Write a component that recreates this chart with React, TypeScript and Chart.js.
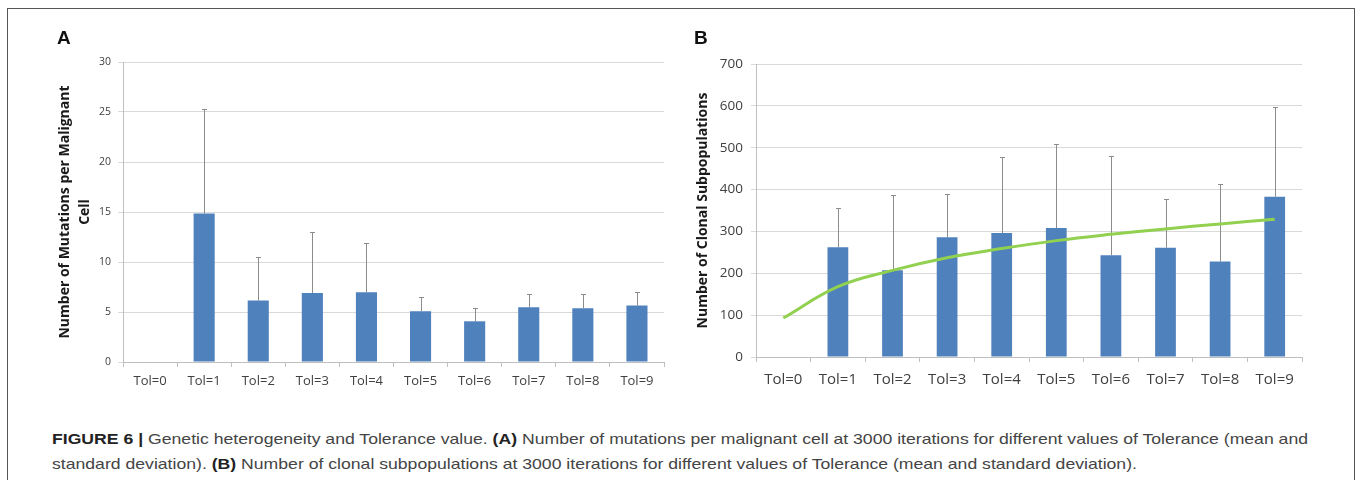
import React, { useEffect, useRef } from 'react';
import { Chart, registerables } from 'chart.js';

Chart.register(...registerables);

const categories = ['Tol=0', 'Tol=1', 'Tol=2', 'Tol=3', 'Tol=4', 'Tol=5', 'Tol=6', 'Tol=7', 'Tol=8', 'Tol=9'];

// Panel A: mutations per malignant cell (mean, mean + SD)
const mutationsMean = [null, 14.85, 6.14, 6.9, 6.97, 5.07, 4.07, 5.47, 5.37, 5.64];
const mutationsUpper = [null, 25.3, 10.55, 13.0, 11.9, 6.47, 5.44, 6.81, 6.77, 7.04];

// Panel B: clonal subpopulations (mean, mean + SD) and trend line
const clonalMean = [null, 262, 207, 286, 296, 308, 243, 261, 228, 383];
const clonalUpper = [null, 357, 387, 389, 477, 509, 481, 378, 414, 598];
const clonalTrend = [93, 168, 207, 237, 259, 278, 293, 306, 318, 329];

const BAR = '#4f81bd';
const GREEN = '#92d050';
const GRID = '#d9d9d9';
const AXIS = '#bfbfbf';
const TICK_TEXT = '#404040';
const FONT = "'Open Sans', 'DejaVu Sans', sans-serif";

const errorBarPlugin = {
  id: 'errorBars',
  afterDatasetDraw(chart: any, args: any, opts: any) {
    const ds = chart.data.datasets[args.index];
    if (!ds || ds.type === 'line' || !opts || !opts.upper) return;
    const yScale = chart.scales.y;
    const ctx = chart.ctx;
    const meta = args.meta;
    ctx.save();
    ctx.strokeStyle = '#8c8c8c';
    ctx.lineWidth = 1;
    meta.data.forEach((el: any, i: number) => {
      const up = opts.upper[i];
      const v = ds.data[i];
      if (up == null || v == null) return;
      const x = Math.round(el.x) + 0.5;
      const y0 = yScale.getPixelForValue(v);
      const y1 = Math.round(yScale.getPixelForValue(up)) + 0.5;
      ctx.beginPath();
      ctx.moveTo(x, y0);
      ctx.lineTo(x, y1);
      ctx.moveTo(x - 2.5, y1);
      ctx.lineTo(x + 2.5, y1);
      ctx.stroke();
    });
    ctx.restore();
  },
};

function makeOptions(cfg: any) {
  return {
    responsive: false,
    animation: false,
    maintainAspectRatio: false,
    layout: { padding: cfg.padding },
    plugins: {
      legend: { display: false },
      tooltip: { enabled: false },
      errorBars: { upper: cfg.upper },
    },
    scales: {
      x: {
        type: 'category',
        offset: true,
        afterFit: (s: any) => { s.height = cfg.xHeight; },
        grid: { offset: true, drawOnChartArea: false, drawTicks: true, tickLength: 5, color: AXIS },
        border: { color: AXIS, width: 1 },
        ticks: { font: { family: FONT, size: cfg.xFont }, color: TICK_TEXT, padding: cfg.xPad, maxRotation: 0, autoSkip: false },
      },
      y: {
        min: 0,
        max: cfg.max,
        afterFit: (s: any) => { s.width = cfg.yWidth; },
        grid: { color: GRID, drawTicks: true, tickLength: 5, lineWidth: 1 },
        border: { color: AXIS, width: 1 },
        ticks: { stepSize: cfg.step, font: { family: FONT, size: cfg.yFont }, color: TICK_TEXT, padding: cfg.yPad },
        title: {
          display: true,
          text: cfg.title,
          font: { family: FONT, size: 14, weight: 'bold', lineHeight: 1.45 },
          color: '#1a1a1a',
          padding: { top: cfg.titlePad, bottom: 0 },
        },
      },
    },
  };
}

function ChartA() {
  const ref = useRef<HTMLCanvasElement>(null);
  useEffect(() => {
    const chart = new Chart(ref.current as HTMLCanvasElement, {
      type: 'bar',
      data: {
        labels: categories,
        datasets: [
          { type: 'bar', data: mutationsMean, backgroundColor: BAR, barPercentage: 0.39, categoryPercentage: 1 },
        ],
      },
      options: makeOptions({
        padding: { left: 0, top: 62, right: 16, bottom: 0 },
        xHeight: 38, yWidth: 123, max: 30, step: 5,
        xFont: 13, yFont: 10.5, xPad: 6, yPad: 7,
        title: ['Number of Mutations per Malignant', 'Cell'],
        titlePad: 55, upper: mutationsUpper,
      }) as any,
      plugins: [errorBarPlugin],
    } as any);
    return () => chart.destroy();
  }, []);
  return <canvas ref={ref} width={680} height={400} style={{ position: 'absolute', left: 0, top: 0, width: 680, height: 400 }} />;
}

function ChartB() {
  const ref = useRef<HTMLCanvasElement>(null);
  useEffect(() => {
    const chart = new Chart(ref.current as HTMLCanvasElement, {
      type: 'bar',
      data: {
        labels: categories,
        datasets: [
          { type: 'bar', data: clonalMean, backgroundColor: BAR, barPercentage: 0.38, categoryPercentage: 1, order: 1 },
          { type: 'line', data: clonalTrend, borderColor: GREEN, borderWidth: 3, pointRadius: 0, tension: 0.4, fill: false, order: 0 },
        ],
      },
      options: makeOptions({
        padding: { left: 0, top: 64, right: 55, bottom: 0 },
        xHeight: 43, yWidth: 76, max: 700, step: 100,
        xFont: 15, yFont: 13.5, xPad: 9, yPad: 8,
        title: 'Number of Clonal Subpopulations',
        titlePad: 13, upper: clonalUpper,
      }) as any,
      plugins: [errorBarPlugin],
    } as any);
    return () => chart.destroy();
  }, []);
  return <canvas ref={ref} width={677} height={400} style={{ position: 'absolute', left: 680, top: 0, width: 677, height: 400 }} />;
}

export default function App() {
  useEffect(() => {
    document.body.style.margin = '0';
  }, []);
  const labelStyle: React.CSSProperties = {
    position: 'absolute', fontFamily: "'Liberation Sans', Arial, sans-serif", fontWeight: 'bold', fontSize: 19, color: '#111', lineHeight: '20px',
  };
  return (
    <div style={{ position: 'relative', width: 1357, height: 480, overflow: 'hidden', background: '#fff' }}>
      <div style={{ position: 'absolute', left: 7, top: 8, width: 1346, height: 480, borderTop: '1.5px solid #555', borderLeft: '1.5px solid #555', borderRight: '1.5px solid #555' }} />
      <ChartA />
      <ChartB />
      <div style={{ ...labelStyle, left: 57, top: 28 }}>A</div>
      <div style={{ ...labelStyle, left: 694, top: 28 }}>B</div>
      <div style={{ position: 'absolute', left: 52, top: 426, fontFamily: "'Liberation Sans', Arial, sans-serif", fontSize: 15, lineHeight: '25px', color: '#444', whiteSpace: 'nowrap', transform: 'scaleX(1.175)', transformOrigin: '0 0' }}>
        <div><b style={{ color: '#222' }}>FIGURE 6 |</b> Genetic heterogeneity and Tolerance value. <b style={{ color: '#222' }}>(A)</b> Number of mutations per malignant cell at 3000 iterations for different values of Tolerance (mean and</div>
        <div>standard deviation). <b style={{ color: '#222' }}>(B)</b> Number of clonal subpopulations at 3000 iterations for different values of Tolerance (mean and standard deviation).</div>
      </div>
    </div>
  );
}
